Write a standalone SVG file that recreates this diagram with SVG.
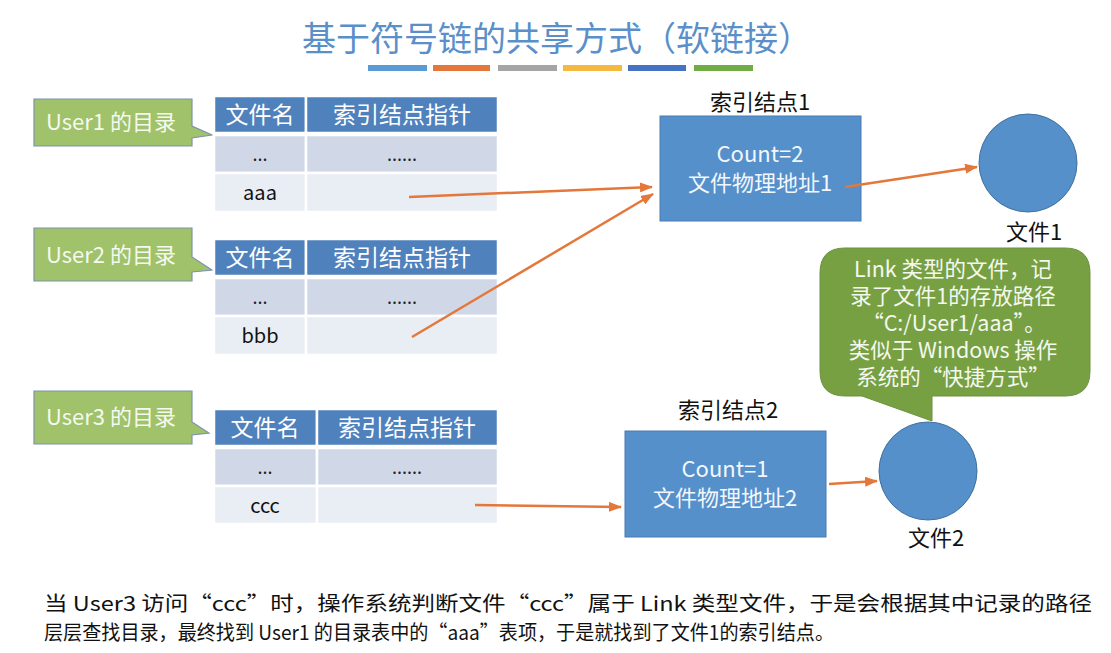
<svg xmlns="http://www.w3.org/2000/svg" width="1111" height="653" viewBox="0 0 1111 653">
<defs>
<style>
text{font-family:"Noto Sans CJK SC","Noto Sans",sans-serif;}
.hdr{fill:#4f81bd;stroke:#fff;stroke-width:2.5;}
.r2{fill:#d0d8e8;stroke:#fff;stroke-width:2.5;}
.r3{fill:#e9edf4;stroke:#fff;stroke-width:2.5;}
.ht{fill:#fff;font-size:23px;text-anchor:middle;}
.ct{fill:#111;font-size:20px;text-anchor:middle;}
.dots{fill:#222;font-size:18px;text-anchor:middle;}
.ucall{fill:#9fc26b;stroke:#7d93ab;stroke-width:1.2;}
.ut{fill:#f5f9ee;font-size:22px;}
.node{fill:#5590cb;stroke:#4a7bb0;stroke-width:1;}
.nt{fill:#f2f7fc;font-size:22px;text-anchor:middle;}
.lbl{fill:#111;font-size:22px;text-anchor:middle;}
.file{fill:#5590cb;stroke:#41719c;stroke-width:1;}
.lt{fill:#f4f8ee;font-size:21.5px;text-anchor:middle;}
.conn{stroke:#e4773a;stroke-width:2.5;fill:none;marker-end:url(#ah);}
.body{fill:#111;font-size:20px;}
</style>
<marker id="ah" markerUnits="userSpaceOnUse" markerWidth="13" markerHeight="10" viewBox="0 0 13 10" refX="12" refY="5" orient="auto">
<path d="M0,0 L13,5 L0,10 Z" fill="#e4773a"/>
</marker>
</defs>
<rect width="1111" height="653" fill="#ffffff"/>

<g id="title">
<text x="557" y="51" font-size="34" fill="#5a8fca" text-anchor="middle">基于符号链的共享方式（软链接）</text>
<rect x="368" y="65" width="59" height="6" fill="#5b9bd5"/>
<rect x="433" y="65" width="57" height="6" fill="#e4773a"/>
<rect x="498" y="65" width="59" height="6" fill="#a5a5a5"/>
<rect x="563" y="65" width="59" height="6" fill="#f5b942"/>
<rect x="628" y="65" width="58" height="6" fill="#4472c4"/>
<rect x="694" y="65" width="59" height="6" fill="#70ad47"/>
</g>

<g id="user1-label">
<path class="ucall" d="M34,99 H192 V126 L212,135 L192,138 V146 H34 Z"/>
<text class="ut" x="46" y="130">User1 的目录</text>
</g>
<g id="table1">
<rect class="hdr" x="214" y="96" width="92" height="37"/>
<rect class="hdr" x="306" y="96" width="192" height="37"/>
<rect class="r2" x="214" y="135" width="92" height="38"/>
<rect class="r2" x="306" y="135" width="192" height="38"/>
<rect class="r3" x="214" y="173" width="92" height="39"/>
<rect class="r3" x="306" y="173" width="192" height="39"/>
<text class="ht" x="260" y="123">文件名</text>
<text class="ht" x="402" y="123">索引结点指针</text>
<text class="dots" x="260" y="161">...</text>
<text class="dots" x="402" y="161">......</text>
<text class="ct" x="260" y="200">aaa</text>
</g>

<g id="user2-label">
<path class="ucall" d="M34,228 H192 V257 L212,270 L192,272 V281 H34 Z"/>
<text class="ut" x="46" y="263">User2 的目录</text>
</g>
<g id="table2">
<rect class="hdr" x="214" y="239" width="92" height="37"/>
<rect class="hdr" x="306" y="239" width="192" height="37"/>
<rect class="r2" x="214" y="278" width="92" height="38"/>
<rect class="r2" x="306" y="278" width="192" height="38"/>
<rect class="r3" x="214" y="316" width="92" height="39"/>
<rect class="r3" x="306" y="316" width="192" height="39"/>
<text class="ht" x="260" y="266">文件名</text>
<text class="ht" x="402" y="266">索引结点指针</text>
<text class="dots" x="260" y="304">...</text>
<text class="dots" x="402" y="304">......</text>
<text class="ct" x="260" y="343">bbb</text>
</g>

<g id="user3-label">
<path class="ucall" d="M34,391 H192 V422 L209,433 L192,435 V444 H34 Z"/>
<text class="ut" x="46" y="425">User3 的目录</text>
</g>
<g id="table3">
<rect class="hdr" x="214" y="409" width="103" height="37"/>
<rect class="hdr" x="317" y="409" width="181" height="37"/>
<rect class="r2" x="214" y="448" width="103" height="38"/>
<rect class="r2" x="317" y="448" width="181" height="38"/>
<rect class="r3" x="214" y="486" width="103" height="38"/>
<rect class="r3" x="317" y="486" width="181" height="38"/>
<text class="ht" x="265" y="436">文件名</text>
<text class="ht" x="407" y="436">索引结点指针</text>
<text class="dots" x="265" y="474">...</text>
<text class="dots" x="407" y="474">......</text>
<text class="ct" x="265" y="513">ccc</text>
</g>

<g id="inode1">
<text class="lbl" x="760" y="110">索引结点1</text>
<rect class="node" x="660" y="116" width="201" height="105"/>
<text class="nt" x="760" y="162">Count=2</text>
<text class="nt" x="760" y="191">文件物理地址1</text>
</g>
<g id="file1">
<circle class="file" cx="1028" cy="163" r="49"/>
<text class="lbl" x="1034" y="240">文件1</text>
</g>

<g id="inode2">
<text class="lbl" x="728" y="418">索引结点2</text>
<rect class="node" x="625" y="431" width="201" height="106"/>
<text class="nt" x="725" y="477">Count=1</text>
<text class="nt" x="725" y="506">文件物理地址2</text>
</g>
<g id="file2">
<circle class="file" cx="928" cy="471" r="49"/>
<text class="lbl" x="936" y="546">文件2</text>
</g>

<g id="link-note">
<path d="M845,248 H1065 Q1090,248 1090,273 V371 Q1090,396 1065,396 H932 V421 L862,396 H845 Q820,396 820,371 V273 Q820,248 845,248 Z" fill="#77a043" stroke="#6c9140" stroke-width="1"/>
<text class="lt" x="953" y="277">Link 类型的文件，记</text>
<text class="lt" x="953" y="304">录了文件1的存放路径</text>
<text class="lt" x="954" y="331">“C:/User1/aaa”。</text>
<text class="lt" x="953" y="358">类似于 Windows 操作</text>
<text class="lt" x="953" y="385">系统的“快捷方式”</text>
</g>

<g id="connectors">
<line class="conn" x1="409" y1="197" x2="652" y2="187"/>
<line class="conn" x1="412" y1="337" x2="653" y2="194"/>
<line class="conn" x1="475" y1="505" x2="621" y2="507"/>
<line class="conn" x1="845" y1="187" x2="977" y2="167"/>
<line class="conn" x1="829" y1="484" x2="877" y2="481"/>
</g>

<g id="caption">
<text class="body" x="44" y="611" textLength="1048" lengthAdjust="spacingAndGlyphs">当 User3 访问“ccc”时，操作系统判断文件“ccc”属于 Link 类型文件，于是会根据其中记录的路径</text>
<text class="body" x="44" y="640" textLength="790" lengthAdjust="spacingAndGlyphs">层层查找目录，最终找到 User1 的目录表中的“aaa”表项，于是就找到了文件1的索引结点。</text>
</g>
</svg>
